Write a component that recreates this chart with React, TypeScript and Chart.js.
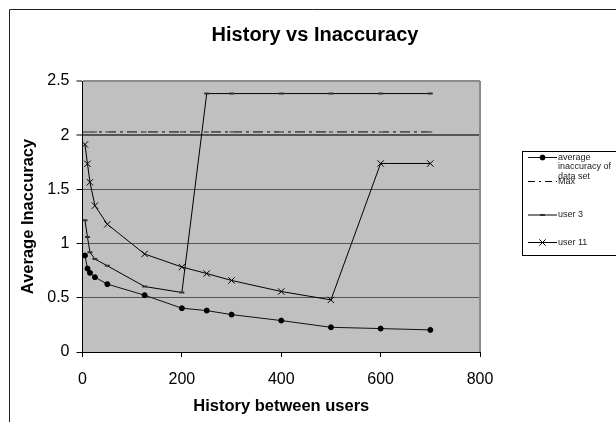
import React, { useEffect, useRef } from 'react';
import { Chart, registerables } from 'chart.js';

Chart.register(...registerables);

const TITLE = 'History vs Inaccuracy';
const X_TITLE = 'History between users';
const Y_TITLE = 'Average Inaccuracy';

const X_VALUES = [5, 10, 15, 25, 50, 125, 200, 250, 300, 400, 500, 600, 700];
const AVG_INACCURACY = [0.89, 0.77, 0.73, 0.69, 0.626, 0.524, 0.404, 0.382, 0.345, 0.29, 0.228, 0.216, 0.204];
const MAX_VALUES = [2.03, 2.03, 2.03, 2.03, 2.03, 2.03, 2.03, 2.03, 2.03, 2.03, 2.03, 2.03, 2.03];
const USER_3 = [1.215, 1.06, 0.92, 0.857, 0.795, 0.604, 0.549, 2.384, 2.384, 2.384, 2.384, 2.384, 2.384];
const USER_11 = [1.915, 1.736, 1.566, 1.35, 1.178, 0.904, 0.784, 0.724, 0.66, 0.558, 0.481, 1.739, 1.739];

const SERIES_LABELS = ['average inaccuracy of data set', 'Max', 'user 3', 'user 11'];
const Y_TICK_LABELS = ['0', '0.5', '1', '1.5', '2', '2.5'];

const FONT = '"Liberation Sans", Arial, Helvetica, sans-serif';
const LEGEND_ROW_Y = [157.5, 181.5, 215, 242.5];

function toPoints(ys: number[]) {
  return X_VALUES.map((x, i) => ({ x, y: ys[i] }));
}

function wrapText(ctx: CanvasRenderingContext2D, text: string, maxW: number): string[] {
  const words = text.split(' ');
  const lines: string[] = [];
  let cur = '';
  for (const w of words) {
    const test = cur ? cur + ' ' + w : w;
    if (cur && ctx.measureText(test).width > maxW) {
      lines.push(cur);
      cur = w;
    } else {
      cur = test;
    }
  }
  if (cur) lines.push(cur);
  return lines;
}

function drawMarker(ctx: CanvasRenderingContext2D, ds: any, x: number, y: number) {
  const style = ds.pointStyle;
  const r = ds.pointRadius;
  ctx.save();
  ctx.setLineDash([]);
  ctx.strokeStyle = ds.pointBorderColor;
  ctx.fillStyle = ds.pointBackgroundColor;
  ctx.lineWidth = ds.pointBorderWidth;
  ctx.beginPath();
  if (style === 'circle') {
    ctx.arc(x, y, r, 0, Math.PI * 2);
    ctx.fill();
    ctx.stroke();
  } else if (style === 'line') {
    ctx.moveTo(x - r, y);
    ctx.lineTo(x + r, y);
    ctx.stroke();
  } else if (style === 'crossRot') {
    const d = r * Math.SQRT1_2;
    ctx.moveTo(x - d, y - d);
    ctx.lineTo(x + d, y + d);
    ctx.moveTo(x + d, y - d);
    ctx.lineTo(x - d, y + d);
    ctx.stroke();
  }
  ctx.restore();
}

const framePlugin = {
  id: 'frame',
  beforeDraw(chart: any) {
    const { ctx, chartArea } = chart;
    ctx.save();
    ctx.fillStyle = '#C0C0C0';
    ctx.fillRect(chartArea.left, chartArea.top, chartArea.right - chartArea.left, chartArea.bottom - chartArea.top);
    ctx.strokeStyle = '#222';
    ctx.lineWidth = 1;
    ctx.beginPath();
    ctx.moveTo(9.5, 422);
    ctx.lineTo(9.5, 9.5);
    ctx.lineTo(616, 9.5);
    ctx.stroke();
    ctx.restore();
  },
  beforeDatasetsDraw(chart: any) {
    const { ctx, chartArea } = chart;
    ctx.save();
    ctx.strokeStyle = '#8c8c8c';
    ctx.lineWidth = 2;
    ctx.beginPath();
    ctx.moveTo(chartArea.right, chartArea.top);
    ctx.lineTo(chartArea.right, chartArea.bottom);
    ctx.stroke();
    ctx.restore();
  },
};

const legendPlugin = {
  id: 'boxLegend',
  afterDraw(chart: any) {
    const ctx: CanvasRenderingContext2D = chart.ctx;
    ctx.save();
    ctx.fillStyle = '#fff';
    ctx.fillRect(522.5, 151.5, 110, 104);
    ctx.strokeStyle = '#000';
    ctx.lineWidth = 1;
    ctx.strokeRect(522.5, 151.5, 110, 104);
    ctx.font = '9px ' + FONT;
    ctx.textBaseline = 'middle';
    ctx.textAlign = 'left';
    chart.data.datasets.forEach((ds: any, i: number) => {
      const y = LEGEND_ROW_Y[i];
      ctx.save();
      ctx.beginPath();
      ctx.setLineDash(ds.borderDash ? [7, 4, 2, 4] : []);
      ctx.strokeStyle = ds.borderColor;
      ctx.lineWidth = ds.borderWidth;
      ctx.moveTo(528, y);
      ctx.lineTo(557, y);
      ctx.stroke();
      ctx.restore();
      if (!ds.borderDash) drawMarker(ctx, ds, 542.5, y);
      ctx.fillStyle = '#222';
      const lines = wrapText(ctx, ds.label, 58);
      lines.forEach((ln, k) => ctx.fillText(ln, 558, y + k * 9.5));
    });
    ctx.restore();
  },
};

export default function App() {
  const ref = useRef<HTMLCanvasElement>(null);

  useEffect(() => {
    if (!ref.current) return;
    const chart = new Chart(ref.current, {
      type: 'line',
      data: {
        datasets: [
          {
            label: SERIES_LABELS[0],
            data: toPoints(AVG_INACCURACY),
            borderColor: '#111',
            borderWidth: 1,
            pointStyle: 'circle',
            pointRadius: 2.5,
            pointBackgroundColor: '#000',
            pointBorderColor: '#000',
            pointBorderWidth: 1,
            yAxisID: 'y',
          },
          {
            label: SERIES_LABELS[1],
            data: toPoints(MAX_VALUES),
            borderColor: '#000',
            borderWidth: 1,
            borderDash: [10, 4, 3, 4],
            pointStyle: 'line',
            pointRadius: 2,
            pointBorderColor: '#777',
            pointBackgroundColor: '#777',
            pointBorderWidth: 2,
            yAxisID: 'y',
          },
          {
            label: SERIES_LABELS[2],
            data: toPoints(USER_3),
            borderColor: '#000',
            borderWidth: 1,
            pointStyle: 'line',
            pointRadius: 2.5,
            pointBorderColor: '#333',
            pointBackgroundColor: '#333',
            pointBorderWidth: 2,
            yAxisID: 'y',
          },
          {
            label: SERIES_LABELS[3],
            data: toPoints(USER_11),
            borderColor: '#000',
            borderWidth: 1,
            pointStyle: 'crossRot',
            pointRadius: 4.5,
            pointBorderColor: '#000',
            pointBackgroundColor: '#000',
            pointBorderWidth: 1,
            yAxisID: 'y',
          },
        ],
      },
      options: {
        animation: false,
        responsive: false,
        devicePixelRatio: 1,
        layout: { padding: { left: 14, right: 0, top: 0, bottom: 0 } },
        elements: { line: { tension: 0 } },
        plugins: {
          legend: { display: false },
          tooltip: { enabled: false },
          title: {
            display: true,
            text: TITLE,
            color: '#000',
            font: { family: FONT, size: 20, weight: 'bold' },
            padding: { top: 23, bottom: 34 },
          },
        },
        scales: {
          x: {
            type: 'linear',
            min: 0,
            max: 800,
            ticks: { stepSize: 200, color: '#000', font: { family: FONT, size: 16 }, padding: 13, maxRotation: 0 },
            grid: { drawOnChartArea: false, tickLength: 5, tickColor: '#000' },
            border: { color: '#000', width: 1 },
            title: {
              display: true,
              text: X_TITLE,
              color: '#000',
              font: { family: FONT, size: 16.5, weight: 'bold' },
              padding: { top: 0, bottom: 6 },
            },
            afterFit: (s: any) => {
              s.height = 70;
            },
          },
          y: {
            type: 'linear',
            min: 0,
            max: 2.5,
            ticks: {
              stepSize: 0.5,
              color: '#000',
              font: { family: FONT, size: 16 },
              padding: 7,
              callback: (_v: any, i: number) => Y_TICK_LABELS[i],
            },
            grid: {
              color: (c: any) => {
                const v = c.tick ? c.tick.value : 0;
                if (v === 2.5) return '#8c8c8c';
                if (v === 0) return '#000';
                return '#555';
              },
              lineWidth: (c: any) => {
                const v = c.tick ? c.tick.value : 0;
                return v === 2.5 || v === 2 ? 2 : 1;
              },
              tickLength: 6,
              tickColor: '#000',
              tickWidth: 1,
            },
            border: { color: '#000', width: 1 },
            title: {
              display: true,
              text: Y_TITLE,
              color: '#000',
              font: { family: FONT, size: 16.5, weight: 'bold' },
              padding: { top: 5, bottom: 0 },
            },
            afterFit: (s: any) => {
              s.width = 68.5;
            },
          },
          y2: {
            type: 'linear',
            position: 'right',
            display: true,
            grid: { display: false },
            border: { display: false },
            ticks: { display: false },
            afterFit: (s: any) => {
              s.width = 136;
            },
          },
        },
      },
      plugins: [framePlugin, legendPlugin],
    } as any);
    return () => chart.destroy();
  }, []);

  return (
    <div style={{ position: 'absolute', left: 0, top: 0, width: 616, height: 422 }}>
      <canvas ref={ref} width={616} height={422} style={{ display: 'block', width: 616, height: 422 }} />
    </div>
  );
}
